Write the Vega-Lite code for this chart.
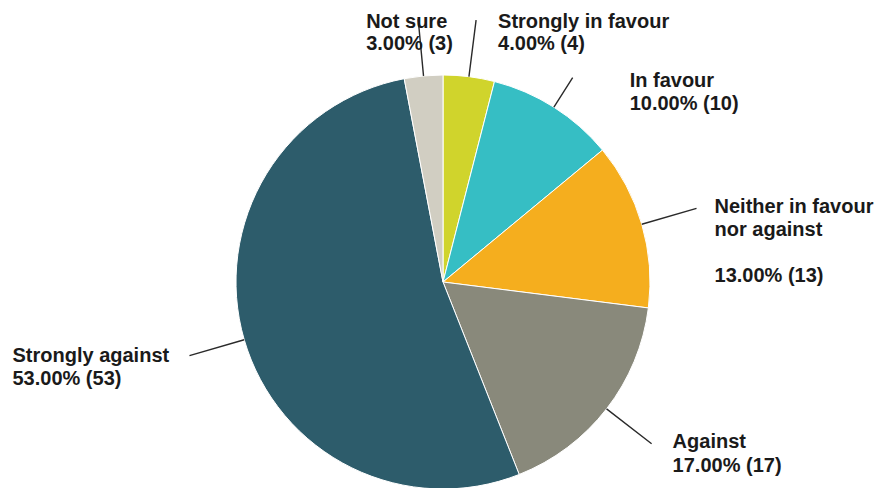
{
  "$schema": "https://vega.github.io/schema/vega-lite/v6.json",
  "width": 866,
  "height": 410,
  "autosize": "none",
  "padding": {"left": 10, "top": 77, "right": 1, "bottom": 1},
  "background": "#ffffff",
  "view": {"stroke": null},
  "data": {
    "values": [
      {"category": "Strongly in favour", "count": 4, "order": 1, "title": "Strongly in favour", "pct": "4.00% (4)", "label": "Strongly in favour\n4.00% (4)"},
      {"category": "In favour", "count": 10, "order": 2, "title": "In favour", "pct": "10.00% (10)", "label": "In favour\n10.00% (10)"},
      {"category": "Neither in favour nor against", "count": 13, "order": 3, "title": "Neither in favour\nnor against", "pct": "13.00% (13)", "label": "Neither in favour\nnor against\n\n13.00% (13)"},
      {"category": "Against", "count": 17, "order": 4, "title": "Against", "pct": "17.00% (17)", "label": "Against\n17.00% (17)"},
      {"category": "Strongly against", "count": 53, "order": 5, "title": "Strongly against", "pct": "53.00% (53)", "label": "Strongly against\n53.00% (53)"},
      {"category": "Not sure", "count": 3, "order": 6, "title": "Not sure", "pct": "3.00% (3)", "label": "Not sure\n3.00% (3)"}
    ]
  },
  "transform": [
    {"stack": "count", "groupby": [], "sort": [{"field": "order", "order": "ascending"}], "as": ["v0", "v1"]},
    {"fold": ["v0", "v1"], "as": ["edge", "pos"]},
    {"aggregate": [{"op": "mean", "field": "pos", "as": "mid"}], "groupby": ["category", "count", "order", "title", "pct", "label", "v0", "v1"]}
  ],
  "layer": [
    {
      "mark": {"type": "arc", "outerRadius": 207, "stroke": "#ffffff", "strokeWidth": 1},
      "encoding": {
        "theta": {"field": "v0", "type": "quantitative", "stack": null, "scale": {"domain": [0, 100]}},
        "theta2": {"field": "v1"},
        "color": {
          "field": "category", "type": "nominal", "legend": null,
          "scale": {
            "domain": ["Strongly in favour", "In favour", "Neither in favour nor against", "Against", "Strongly against", "Not sure"],
            "range": ["#d0d42c", "#36bec4", "#f5ae1e", "#89897b", "#2d5c6b", "#d1cec2"]
          }
        }
      }
    },
    {
      "transform": [{"filter": {"not": {"field": "category", "equal": "In favour"}}}],
      "mark": {"type": "arc", "innerRadius": 207, "outerRadius": 264, "filled": false, "stroke": "#2a2a2a", "strokeWidth": 1.4},
      "encoding": {
        "theta": {"field": "mid", "type": "quantitative", "stack": null, "scale": {"domain": [0, 100]}},
        "theta2": {"field": "mid"}
      }
    },
    {
      "transform": [{"filter": {"field": "category", "equal": "In favour"}}],
      "mark": {"type": "arc", "innerRadius": 207, "outerRadius": 242, "filled": false, "stroke": "#2a2a2a", "strokeWidth": 1.4},
      "encoding": {
        "theta": {"field": "mid", "type": "quantitative", "stack": null, "scale": {"domain": [0, 100]}},
        "theta2": {"field": "mid"}
      }
    },
    {
      "transform": [{"filter": {"field": "category", "equal": "Not sure"}}],
      "mark": {"type": "text", "radius": 264, "align": "left", "baseline": "alphabetic", "dx": -52, "dy": 9, "font": "Liberation Sans", "fontWeight": "bold", "fontSize": 20, "lineHeight": 22, "lineBreak": "\n", "color": "#1a1a1a"},
      "encoding": {"theta": {"field": "mid", "type": "quantitative", "stack": null, "scale": {"domain": [0, 100]}}, "text": {"field": "label"}}
    },
    {
      "transform": [{"filter": {"field": "category", "equal": "Strongly in favour"}}],
      "mark": {"type": "text", "radius": 264, "align": "left", "baseline": "alphabetic", "dx": 22, "dy": 8, "font": "Liberation Sans", "fontWeight": "bold", "fontSize": 20, "lineHeight": 22, "lineBreak": "\n", "color": "#1a1a1a"},
      "encoding": {"theta": {"field": "mid", "type": "quantitative", "stack": null, "scale": {"domain": [0, 100]}}, "text": {"field": "label"}}
    },
    {
      "transform": [{"filter": {"field": "category", "equal": "In favour"}}],
      "mark": {"type": "text", "radius": 242, "align": "left", "baseline": "alphabetic", "dx": 57, "dy": 9, "font": "Liberation Sans", "fontWeight": "bold", "fontSize": 20, "lineHeight": 23, "lineBreak": "\n", "color": "#1a1a1a"},
      "encoding": {"theta": {"field": "mid", "type": "quantitative", "stack": null, "scale": {"domain": [0, 100]}}, "text": {"field": "label"}}
    },
    {
      "transform": [{"filter": {"field": "category", "equal": "Neither in favour nor against"}}],
      "mark": {"type": "text", "radius": 264, "align": "left", "baseline": "alphabetic", "dx": 18, "dy": 5, "font": "Liberation Sans", "fontWeight": "bold", "fontSize": 20, "lineHeight": 23, "lineBreak": "\n", "color": "#1a1a1a"},
      "encoding": {"theta": {"field": "mid", "type": "quantitative", "stack": null, "scale": {"domain": [0, 100]}}, "text": {"field": "title"}}
    },
    {
      "transform": [{"filter": {"field": "category", "equal": "Neither in favour nor against"}}],
      "mark": {"type": "text", "radius": 264, "align": "left", "baseline": "alphabetic", "dx": 18, "dy": 74, "font": "Liberation Sans", "fontWeight": "bold", "fontSize": 20, "color": "#1a1a1a"},
      "encoding": {"theta": {"field": "mid", "type": "quantitative", "stack": null, "scale": {"domain": [0, 100]}}, "text": {"field": "pct"}}
    },
    {
      "transform": [{"filter": {"field": "category", "equal": "Against"}}],
      "mark": {"type": "text", "radius": 264, "align": "left", "baseline": "alphabetic", "dx": 21, "dy": 4, "font": "Liberation Sans", "fontWeight": "bold", "fontSize": 20, "lineHeight": 24, "lineBreak": "\n", "color": "#1a1a1a"},
      "encoding": {"theta": {"field": "mid", "type": "quantitative", "stack": null, "scale": {"domain": [0, 100]}}, "text": {"field": "label"}}
    },
    {
      "transform": [{"filter": {"field": "category", "equal": "Strongly against"}}],
      "mark": {"type": "text", "radius": 264, "align": "left", "baseline": "alphabetic", "dx": -177, "dy": 6, "font": "Liberation Sans", "fontWeight": "bold", "fontSize": 20, "lineHeight": 23, "lineBreak": "\n", "color": "#1a1a1a"},
      "encoding": {"theta": {"field": "mid", "type": "quantitative", "stack": null, "scale": {"domain": [0, 100]}}, "text": {"field": "label"}}
    }
  ]
}
